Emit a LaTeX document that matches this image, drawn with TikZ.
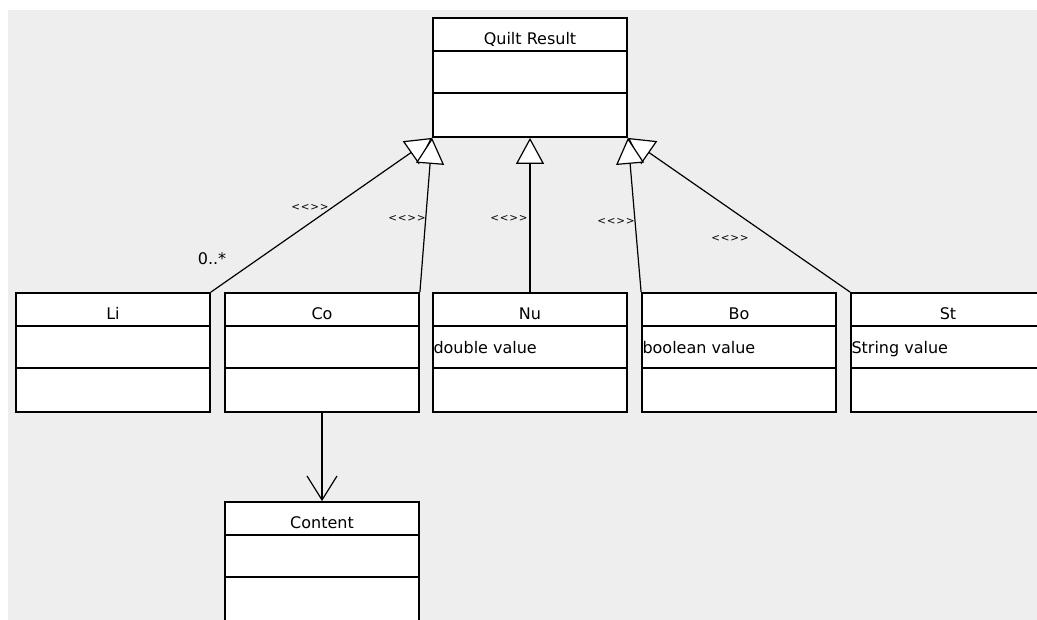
\documentclass[tikz,border=0pt]{standalone}
\usepackage{fontspec}
\setmainfont{DejaVu Sans}
\usetikzlibrary{arrows.meta,calc,positioning}

\definecolor{panelgray}{HTML}{EEEEEE}

\begin{document}
\begin{tikzpicture}[x=0.5pt, y=-0.5pt, line cap=butt, line join=miter,
    classbox/.style={draw=black, line width=0.9pt, fill=white, minimum width=97pt, minimum height=59.5pt, inner sep=0pt},
    classname/.style={anchor=base, font=\fontsize{8}{9}\selectfont, inner sep=0pt},
    attr/.style={anchor=base west, font=\fontsize{8}{9}\selectfont, inner sep=0pt},
    stereo/.style={font=\fontsize{5.2}{6}\selectfont, inner sep=0pt},
    gen/.style={line width=0.6pt, -{Triangle[fill=white, length=13pt, width=14pt]}},
    assoc/.style={line width=0.6pt, -{Straight Barb[length=12pt, width=15pt]}}]

    % canvas
    \clip (0,0) rectangle (1037,620);
    \fill[white] (0,0) rectangle (1037,620);
    \fill[panelgray] (8,10) rectangle (1037,620);

    % one class box: name, centre x, centre y, title
    \def\umlclass#1#2#3#4{%
        \node[classbox] (#1) at (#2,#3) {};
        \node[classname] (#1-title) at ($(#1.north)+(0,27)$) {#4};
        \draw[line width=0.9pt] ($(#1.north west)+(0,34)$) -- ($(#1.north east)+(0,34)$);
        \draw[line width=0.9pt] ($(#1.north west)+(0,76)$) -- ($(#1.north east)+(0,76)$);}
    % empty stereotype, kerned so no guillemets appear
    \def\nostereo{<\kern0.4pt<\kern0.4pt>\kern0.4pt>}

    % parent
    \umlclass{QR}{530}{77.5}{Quilt Result}

    % children
    \umlclass{Li}{113}{352.5}{Li}
    \umlclass{Co}{322}{352.5}{Co}
    \umlclass{Nu}{530}{352.5}{Nu}
    \umlclass{Bo}{739}{352.5}{Bo}
    \umlclass{St}{948}{352.5}{St}

    % associated class
    \umlclass{Ct}{322}{561.5}{Content}

    % attributes
    \node[attr] (Nu-val) at ($(Nu.north west)+(1,61)$) {double value};
    \node[attr] (Bo-val) at ($(Bo.north west)+(1,61)$) {boolean value};
    \node[attr] (St-val) at ($(St.north west)+(1,61)$) {String value};

    % generalisations
    \draw[gen] (Li.north east) -- (QR.south west);
    \draw[gen] (St.north west) -- (QR.south east);
    \draw[gen] (Co.north east) -- (QR.south west);
    \draw[gen] (Nu.north) -- (QR.south);
    \draw[gen] (Bo.north west) -- (QR.south east);

    % stereotype labels
    \node[stereo] (Li-st) at (310,207) {\nostereo};
    \node[stereo] (Co-st) at (407,218) {\nostereo};
    \node[stereo] (Nu-st) at (509,218) {\nostereo};
    \node[stereo] (Bo-st) at (616,221) {\nostereo};
    \node[stereo] (St-st) at (730,238) {\nostereo};
    \node[classname, anchor=center] (Li-mult) at (212,259) {0..*};

    % association
    \draw[assoc] (Co.south) -- (Ct.north);

\end{tikzpicture}
\end{document}
